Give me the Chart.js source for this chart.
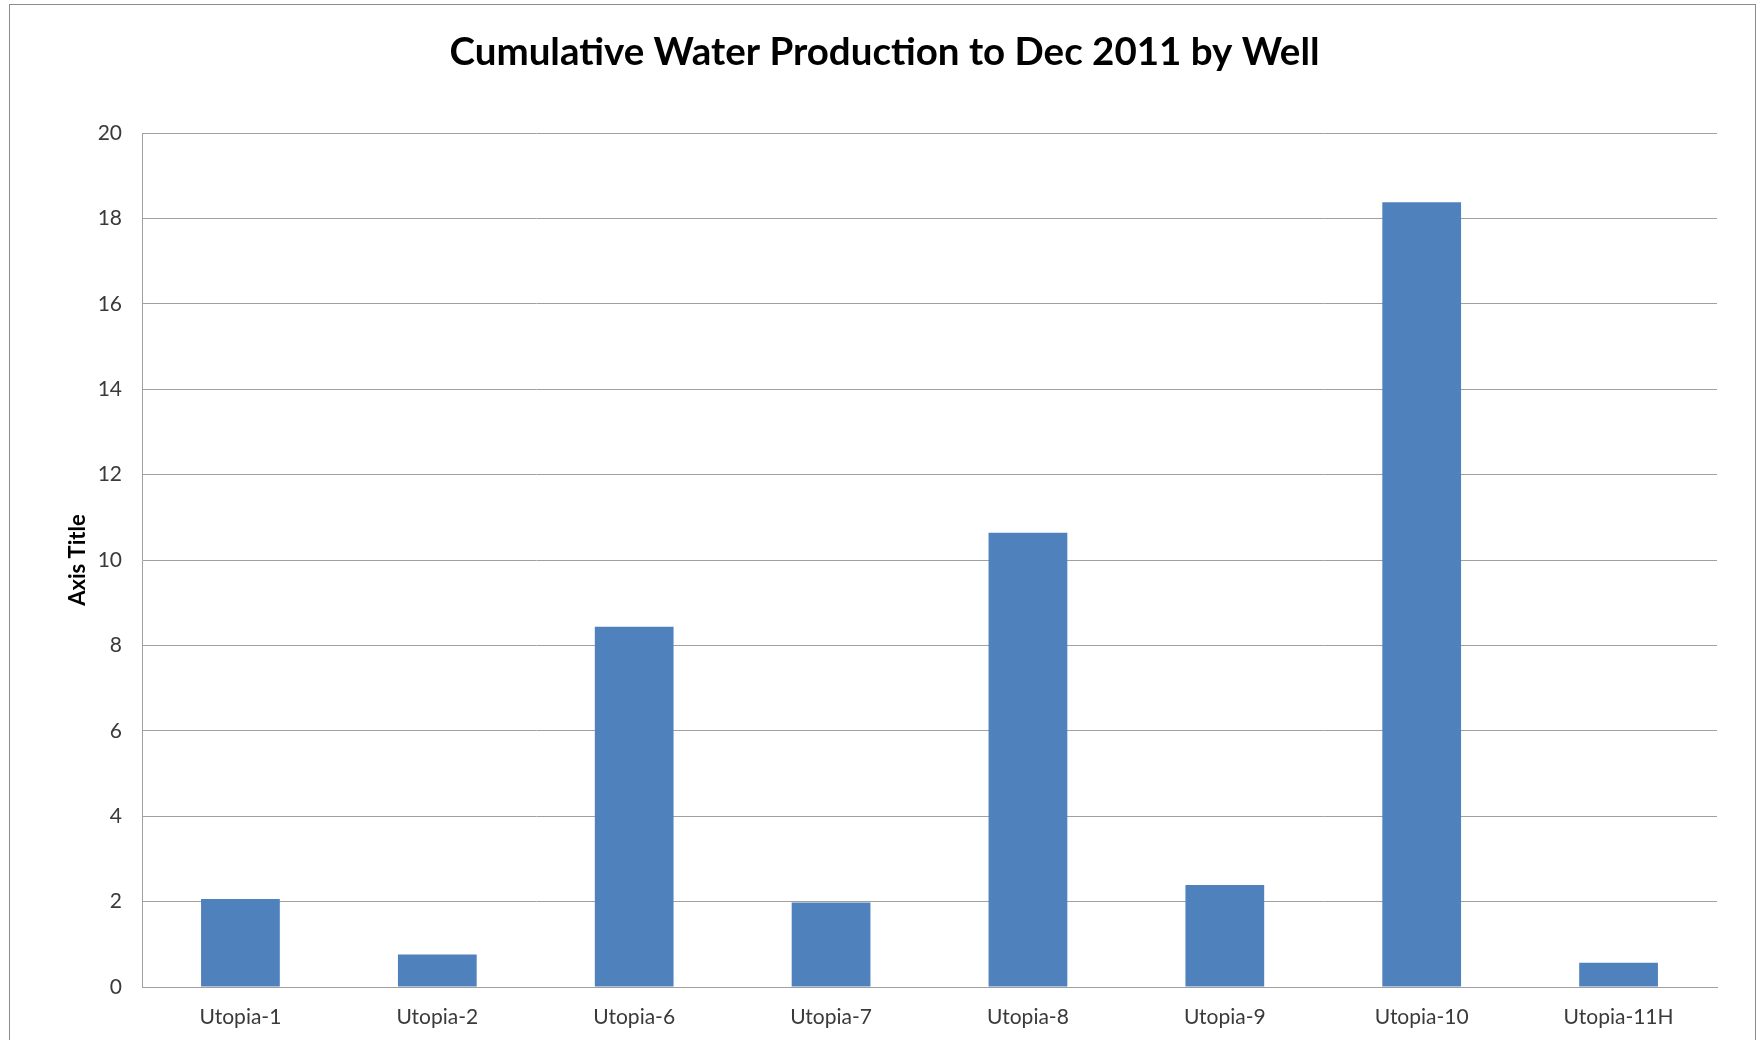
<!DOCTYPE html>
<html>
<head>
<meta charset="utf-8">
<title>Cumulative Water Production</title>
<script src="https://cdn.jsdelivr.net/npm/chart.js@4.4.1/dist/chart.umd.min.js"></script>
<style>
  html, body { margin: 0; padding: 0; background: #fff; overflow: hidden; }
  #frame {
    position: absolute; left: 9px; top: 4px;
    width: 1745px; height: 1060px;
    border: 1.5px solid #8c8c8c;
  }
  #chart { position: absolute; left: 0; top: 0; }
</style>
</head>
<body>
<div id="frame"></div>
<canvas id="chart" width="1758" height="1040"></canvas>
<script>
// wells on the x axis
const wells = ['Utopia-1', 'Utopia-2', 'Utopia-6', 'Utopia-7', 'Utopia-8', 'Utopia-9', 'Utopia-10', 'Utopia-11H'];
// cumulative water production
const waterProduction = [2.06, 0.76, 8.44, 1.98, 10.64, 2.39, 18.38, 0.57];
// y axis range
const yTicks = { min: 0, max: 20, step: 2 };

const textColor = '#3a3a3a';
const gridColor = '#a0a0a0';

const ctx = document.getElementById('chart').getContext('2d');

new Chart(ctx, {
    type: 'bar',
    data: {
        labels: wells,
        datasets: [{
            label: 'Water',
            data: waterProduction,
            backgroundColor: '#4f81bd',
            borderWidth: 0,
            categoryPercentage: 1,
            barPercentage: 0.4
        }]
    },
    options: {
        responsive: false,
        animation: false,
        layout: { padding: { left: 52, right: 41, top: 0, bottom: 0 } },
        plugins: {
            legend: { display: false },
            tooltip: { enabled: false },
            title: {
                display: true,
                text: 'Cumulative Water Production to Dec 2011 by Well',
                color: '#000',
                font: { family: 'Lato', size: 38.5, weight: 'bold' },
                padding: { top: 29, bottom: 58 }
            }
        },
        scales: {
            x: {
                grid: { display: false, drawTicks: false },
                border: { display: true, color: gridColor, width: 1 },
                ticks: {
                    color: textColor,
                    font: { family: 'Lato', size: 21 },
                    padding: 18,
                    maxRotation: 0,
                    autoSkip: false
                },
                afterFit: (scale) => { scale.height = 53; }
            },
            y: {
                min: yTicks.min,
                max: yTicks.max,
                grid: { color: gridColor, lineWidth: 1, drawTicks: false },
                border: { display: true, color: gridColor, width: 1 },
                ticks: {
                    stepSize: yTicks.step,
                    color: textColor,
                    font: { family: 'Lato', size: 21 },
                    padding: 20
                },
                title: {
                    display: true,
                    text: 'Axis Title',
                    color: '#000',
                    font: { family: 'Lato', size: 22, weight: 'bold' },
                    padding: { top: 13, bottom: 0 }
                },
                afterFit: (scale) => { scale.width = 90; }
            }
        }
    }
});
</script>
</body>
</html>
